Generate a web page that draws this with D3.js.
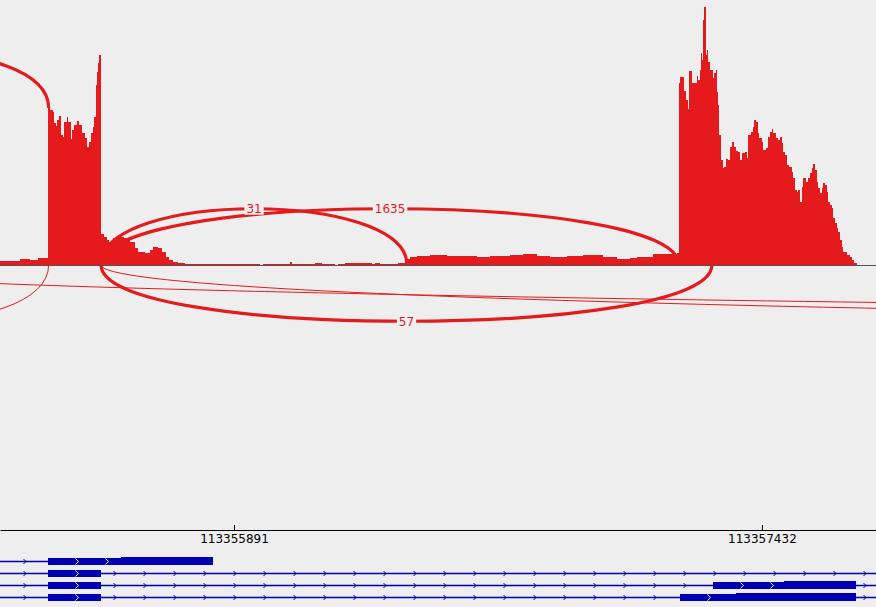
<!DOCTYPE html>
<html>
<head>
<meta charset="utf-8">
<script src="https://cdn.jsdelivr.net/npm/d3@7"></script>
<style>
  body { margin: 0; background: #eeeeee; }
  svg { display: block; }
</style>
</head>
<body>
<div id="sashimi"></div>
<script>
const width = 876, height = 607;

// Genomic window shown
const regionStart = 113355208;
const regionEnd = 113357765;

// Coverage: bin start (bp offset from regionStart) and read depth
const covPos = [0, 58, 88, 111, 140, 146, 155, 158, 163, 166, 172, 178, 184, 187, 196, 198, 207, 210, 216, 225,
  231, 239, 248, 254, 260, 266, 271, 274, 280, 283, 286, 289, 295, 304, 312, 318, 330, 341, 362, 379,
  394, 403, 423, 438, 447, 461, 473, 484, 493, 505, 520, 540, 759, 768, 846, 852, 919, 940, 978, 986,
  1007, 1022, 1051, 1086, 1094, 1109, 1147, 1162, 1182, 1188, 1197, 1217, 1255, 1305, 1392, 1430, 1488, 1526, 1567, 1605,
  1655, 1702, 1760, 1801, 1839, 1859, 1906, 1976, 1982, 1985, 1996, 2002, 2008, 2011, 2020, 2034, 2037, 2043, 2046, 2049,
  2052, 2055, 2060, 2063, 2066, 2072, 2081, 2084, 2090, 2093, 2096, 2098, 2104, 2110, 2113, 2119, 2125, 2131, 2136, 2142,
  2148, 2154, 2160, 2166, 2174, 2180, 2183, 2192, 2198, 2201, 2206, 2212, 2215, 2224, 2227, 2236, 2241, 2247, 2253, 2256,
  2265, 2271, 2276, 2282, 2285, 2291, 2297, 2303, 2312, 2314, 2320, 2326, 2329, 2335, 2341, 2344, 2352, 2358, 2364, 2370,
  2373, 2379, 2385, 2387, 2393, 2399, 2402, 2408, 2414, 2417, 2422, 2428, 2431, 2437, 2443, 2446, 2452, 2458, 2460, 2472,
  2481, 2487, 2493, 2501];
const covDepth = [40, 57, 50, 67, 1570, 1550, 1530, 1420, 1390, 1450, 1490, 1300, 1280, 1430, 1480, 1430, 1260, 1350, 1400, 1440,
  1400, 1320, 1270, 1180, 1230, 1320, 1380, 1480, 1800, 1930, 2020, 2100, 310, 280, 250, 230, 270, 280, 270, 230,
  170, 130, 120, 150, 180, 170, 130, 80, 50, 30, 20, 10, 0, 10, 30, 10, 20, 10, 0, 10,
  20, 25, 20, 10, 25, 10, 15, 20, 40, 60, 80, 90, 100, 90, 80, 90, 100, 110, 90, 80,
  90, 100, 80, 60, 70, 80, 110, 120, 1820, 1880, 1740, 1650, 1560, 1940, 1820, 1890, 1850, 1950, 2120, 2050,
  2450, 2580, 2100, 2150, 2030, 1950, 1870, 1920, 1950, 1730, 1600, 1300, 1050, 970, 980, 1060, 1050, 1180, 1230, 1180,
  1140, 1130, 1050, 1120, 1130, 1070, 1300, 1330, 1380, 1450, 1430, 1320, 1270, 1230, 1150, 1170, 1280, 1330, 1360, 1320,
  1270, 1250, 1280, 1220, 1130, 1100, 1000, 980, 930, 870, 750, 730, 750, 630, 780, 870, 830, 870, 920, 970,
  1010, 950, 830, 770, 720, 770, 820, 800, 730, 630, 600, 570, 470, 420, 370, 330, 250, 180, 130, 100,
  80, 50, 20, 0];

// Splice junctions
const juncStart = [113354551, 113354551, 113355503, 113355503, 113355503, 113354551, 113355503];
const juncEnd = [113355350, 113355350, 113356396, 113357190, 113357286, 113382608, 113368998];
const juncCount = [1420, 1, 31, 1635, 57, 1, 1];
const juncSide = ["up", "down", "up", "up", "down", "down", "down"];
const juncAnchor = [1570, 0, 0, 0, 0, 0, 0]; // depth where the arc leaves the exon

const tickValues = [113355891, 113357432];

// Transcripts: span and exons [start, end, wide]
const txStart = [113354000, 113354000, 113354000, 113354000];
const txEnd = [113355830, 113390000, 113390000, 113390000];
const txExons = [
  [[113355348, 113355561, 0], [113355561, 113355830, 1]],
  [[113355348, 113355503, 0]],
  [[113355348, 113355503, 0], [113357289, 113357496, 0], [113357496, 113357706, 1]],
  [[113355348, 113355503, 0], [113357193, 113357356, 0], [113357356, 113357706, 1]]
];

const red = "#e41a1c", blue = "#0000b2", bg = "#eeeeee";
const baseY = 265;
const arcHeight = 75;

const svg = d3.select("#sashimi")
  .append("svg")
  .attr("width", width)
  .attr("height", height)
  .style("background", bg);

const x = d3.scaleLinear().domain([regionStart, regionEnd]).range([0, width]);
const y = d3.scaleLinear().domain([0, 2600]).range([baseY, 5]);

// Coverage histogram
const cov = covPos.map((p, i) => ({ pos: regionStart + p, depth: covDepth[i] }));
cov.push({ pos: regionEnd, depth: 0 });

const area = d3.area()
  .x(d => x(d.pos))
  .y0(y(0))
  .y1(d => y(d.depth))
  .curve(d3.curveStepAfter);

svg.append("path")
  .datum(cov)
  .attr("d", area)
  .attr("fill", red)
  .attr("shape-rendering", "crispEdges");

// Junction arcs
const widthScale = d3.scaleLog().domain([1, 30]).range([1, 3.2]).clamp(true);

const junctions = juncStart.map((s, i) => {
  const dir = juncSide[i] === "up" ? -1 : 1;
  const x1 = x(s), x2 = x(juncEnd[i]);
  const y1 = y(juncAnchor[i]), y2 = y(juncAnchor[i]);
  const yc = (y1 + y2) / 2 + dir * arcHeight;
  return {
    count: juncCount[i],
    d: `M${x1},${y1} C${x1},${yc} ${x2},${yc} ${x2},${y2}`,
    lx: (x1 + x2) / 2,
    ly: 0.125 * (y1 + y2) + 0.75 * yc
  };
});

svg.append("g")
  .selectAll("path")
  .data(junctions)
  .join("path")
  .attr("d", d => d.d)
  .attr("fill", "none")
  .attr("stroke", red)
  .attr("stroke-width", d => widthScale(d.count));

const labels = svg.append("g")
  .selectAll("g")
  .data(junctions.filter(d => d.lx > 0 && d.lx < width))
  .join("g")
  .attr("transform", d => `translate(${d.lx},${d.ly})`);

labels.append("text")
  .text(d => d.count)
  .attr("text-anchor", "middle")
  .attr("dy", "0.36em")
  .attr("font-family", "DejaVu Sans, sans-serif")
  .attr("font-size", 12)
  .attr("fill", red);

labels.insert("rect", "text")
  .each(function () {
    const w = this.parentNode.querySelector("text").getComputedTextLength() + 4;
    d3.select(this).attr("x", -w / 2).attr("width", w);
  })
  .attr("y", -5)
  .attr("height", 11)
  .attr("fill", bg);

// Coverage baseline
svg.append("line")
  .attr("x1", 0).attr("x2", width)
  .attr("y1", baseY + 0.5).attr("y2", baseY + 0.5)
  .attr("stroke", "#555555")
  .attr("stroke-width", 1);

// Genomic axis
const axis = d3.axisBottom(x)
  .tickValues(tickValues)
  .tickFormat(d3.format("d"))
  .tickSizeInner(-5)
  .tickSizeOuter(0)
  .tickPadding(4);

svg.append("g")
  .attr("transform", "translate(0,530)")
  .call(axis)
  .attr("font-family", "DejaVu Sans, sans-serif")
  .attr("font-size", 12);

// Gene track
const rowY = [561.5, 573.5, 585.5, 597.5];

txExons.forEach((exons, r) => {
  const g = svg.append("g");
  const cy = rowY[r];
  const lx1 = Math.max(0, x(txStart[r])), lx2 = Math.min(width, x(txEnd[r]));

  g.append("line")
    .attr("x1", lx1).attr("x2", lx2)
    .attr("y1", cy).attr("y2", cy)
    .attr("stroke", blue)
    .attr("stroke-width", 1.3);

  // strand arrows on the intron line
  const inExon = px => exons.some(e => px >= x(e[0]) - 2 && px <= x(e[1]) + 2);
  for (let px = 25; px <= lx2; px += 30) {
    if (inExon(px)) continue;
    g.append("path")
      .attr("d", `M${px - 1.5},${cy - 2.5} L${px + 1},${cy} L${px - 1.5},${cy + 2.5}`)
      .attr("fill", "none")
      .attr("stroke", blue);
  }

  g.selectAll("rect")
    .data(exons)
    .join("rect")
    .attr("x", e => x(e[0]))
    .attr("width", e => x(e[1]) - x(e[0]))
    .attr("y", e => cy - (e[2] ? 4.5 : 3.5))
    .attr("height", e => e[2] ? 8 : 7)
    .attr("fill", blue)
    .attr("shape-rendering", "crispEdges");

  // white arrows inside narrow exon blocks
  exons.filter(e => !e[2]).forEach(e => {
    for (let px = x(e[0]) + 29; px < x(e[1]) - 8; px += 30) {
      g.append("path")
        .attr("d", `M${px - 1.5},${cy - 3} L${px + 1.5},${cy} L${px - 1.5},${cy + 3}`)
        .attr("fill", "none")
        .attr("stroke", "#ffffff");
    }
  });
});
</script>
</body>
</html>
